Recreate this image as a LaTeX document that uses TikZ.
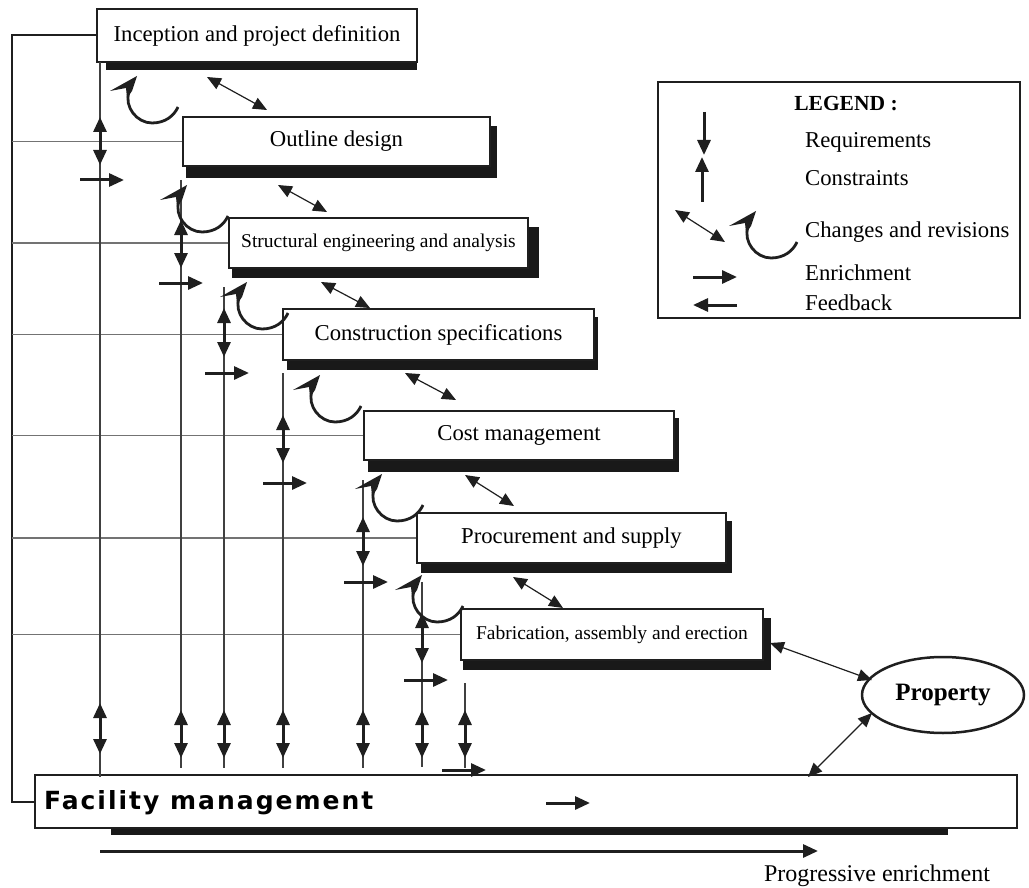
\documentclass[tikz,border=0pt]{standalone}
\usepackage{fontspec}
\setmainfont{Liberation Serif}
\newfontfamily\fmfont[LetterSpace=8]{DejaVu Sans}
\usetikzlibrary{arrows.meta,shapes.geometric}

\newcommand{\revarrow}[2]{%
  \begin{scope}[shift={(#1,#2)}]
    \fill[black!88] (0,0) -- (-27,15) -- (-11,12) -- (-10,22) -- (-5,15) -- cycle;
    \draw[black!88, line width=2.8pt] (-8,16) .. controls (-13,31) and (0,47) .. (15,47) .. controls (28,47) and (37,40) .. (41,31);
  \end{scope}}

\begin{document}
\begin{tikzpicture}[x=1pt,y=-1pt,
  box/.style={draw=black!88, line width=2.5pt, fill=white, inner sep=0pt,
    font=\fontsize{22.7}{26}\selectfont},
  smallbox/.style={box, font=\fontsize{19.5}{23}\selectfont},
  shade/.style={fill=black!90, draw=none},
  hline/.style={draw=black!55, line width=1.2pt},
  vline/.style={draw=black!75, line width=1.2pt},
  dbl/.style={draw=black!88, line width=3pt, {Triangle[length=15pt,width=13pt]}-{Triangle[length=15pt,width=13pt]}},
  enr/.style={draw=black!88, line width=3pt, -{Triangle[length=15pt,width=13pt]}},
  chg/.style={draw=black!88, line width=1.2pt, {Triangle[length=14pt,width=12pt]}-{Triangle[length=14pt,width=12pt]}},
  lab/.style={anchor=west, inner sep=0pt, font=\fontsize{22.7}{26}\selectfont},
]
\useasboundingbox (0,0) rectangle (1029,888);
\coordinate (L) at (12,0);

% shadows
\fill[shade] (106,20) rectangle (417,70);
\fill[shade] (186,126) rectangle (497,178);
\fill[shade] (232,227) rectangle (539,278);
\fill[shade] (287,317) rectangle (598,370);
\fill[shade] (368,418) rectangle (679,472);
\fill[shade] (421,521) rectangle (732,573);
\fill[shade] (463,618) rectangle (771,670);
\fill[shade] (111,790) rectangle (948,835);

% boxes
\node[box, minimum width=320pt, minimum height=53pt] (b1) at (257,35.5) {Inception and project definition};
\node[box, minimum width=307pt, minimum height=49pt] (b2) at (336.5,141.5) {Outline design};
\node[smallbox, minimum width=299pt, minimum height=50pt] (b3) at (378.5,243) {Structural engineering and analysis};
\node[box, minimum width=311pt, minimum height=51pt] (b4) at (438.5,334.5) {Construction specifications};
\node[box, minimum width=310pt, minimum height=49pt] (b5) at (519,435.5) {Cost management};
\node[box, minimum width=309pt, minimum height=50pt] (b6) at (571.5,538) {Procurement and supply};
\node[smallbox, minimum width=302pt, minimum height=51pt] (b7) at (612,634.5) {Fabrication, assembly and erection};
\node[box, minimum width=982pt, minimum height=53pt] (fm) at (526,801.5) {};
\node[anchor=west, inner sep=0pt, font=\fmfont\bfseries\fontsize{25}{30}\selectfont] (fmt) at (44,803) {Facility management};

% property
\node[ellipse, draw=black!88, line width=2.5pt, minimum width=162pt, minimum height=76pt, inner sep=0pt,
  font=\bfseries\fontsize{25}{30}\selectfont] (prop) at (943,695) {Property};

% feedback frame line
\draw[draw=black!88, line width=2pt] (b1.west) -- (b1.west -| L) -- (fm.west -| L) -- (fm.west);

% horizontal grey lines
\foreach \b in {b2,b3,b4,b5,b6,b7} \draw[hline] (\b.west -| L) -- (\b.west);

% vertical lines
\draw[vline] (100,62) -- (100,777);
\draw[vline] (181,180) -- (181,768);
\draw[vline] (224,287) -- (224,768);
\draw[vline] (283,373) -- (283,768);
\draw[vline] (363,480) -- (363,768);
\draw[vline] (422,582) -- (422,767);
\draw[vline] (465,683) -- (465,768);

% requirement / constraint double arrows
\draw[dbl] (100,117) -- (100,165);
\draw[dbl] (181,220) -- (181,268);
\draw[dbl] (224,308) -- (224,357);
\draw[dbl] (283,415) -- (283,463);
\draw[dbl] (363,517) -- (363,566);
\draw[dbl] (422,613) -- (422,663);
\foreach \x in {181,224,283,363,422,465} \draw[dbl] (\x,710) -- (\x,758);
\draw[dbl] (100,703) -- (100,754);

% enrichment arrows
\draw[enr] (80,180) -- (124,180);
\draw[enr] (159,283) -- (203,283);
\draw[enr] (205,373) -- (249,373);
\draw[enr] (263,483) -- (307,483);
\draw[enr] (344,582) -- (388,582);
\draw[enr] (404,680) -- (448,680);
\draw[enr] (442,770) -- (486,770);
\draw[enr] (546,803) -- (590,803);

% change arrows
\draw[chg] (207,77) -- (267,110);
\draw[chg] (278,185) -- (327,212);
\draw[chg] (321,282) -- (370,308);
\draw[chg] (405,373) -- (456,400);
\draw[chg] (465,475) -- (514,506);
\draw[chg] (513,577) -- (563,608);
\draw[chg] (770,643) -- (872,680);
\draw[chg] (872,713) -- (808,777);

% revision curves
\revarrow{137}{76}
\revarrow{187}{185}
\revarrow{247}{282}
\revarrow{320}{375}
\revarrow{382}{474}
\revarrow{422}{575}

% progressive enrichment
\draw[enr] (100,851) -- (818,851);
\node[font=\fontsize{24}{28}\selectfont, inner sep=0pt] (pe) at (877,876) {Progressive enrichment};

% legend
\draw[draw=black!88, line width=2.5pt] (658,82) rectangle (1020,318);
\node[font=\bfseries\fontsize{21.5}{26}\selectfont, inner sep=0pt] (lg) at (846,104) {LEGEND :};
\draw[enr] (704,112) -- (704,155);
\draw[enr] (702,202) -- (702,157);
\draw[chg] (675,210) -- (725,242);
\revarrow{756}{211}
\draw[enr] (693,277) -- (737,277);
\draw[enr] (737,305) -- (693,305);
\node[lab] (l1) at (805,142) {Requirements};
\node[lab] (l2) at (805,178) {Constraints};
\node[lab] (l3) at (805,232) {Changes and revisions};
\node[lab] (l4) at (805,273) {Enrichment};
\node[lab] (l5) at (805,303) {Feedback};
\end{tikzpicture}
\end{document}
